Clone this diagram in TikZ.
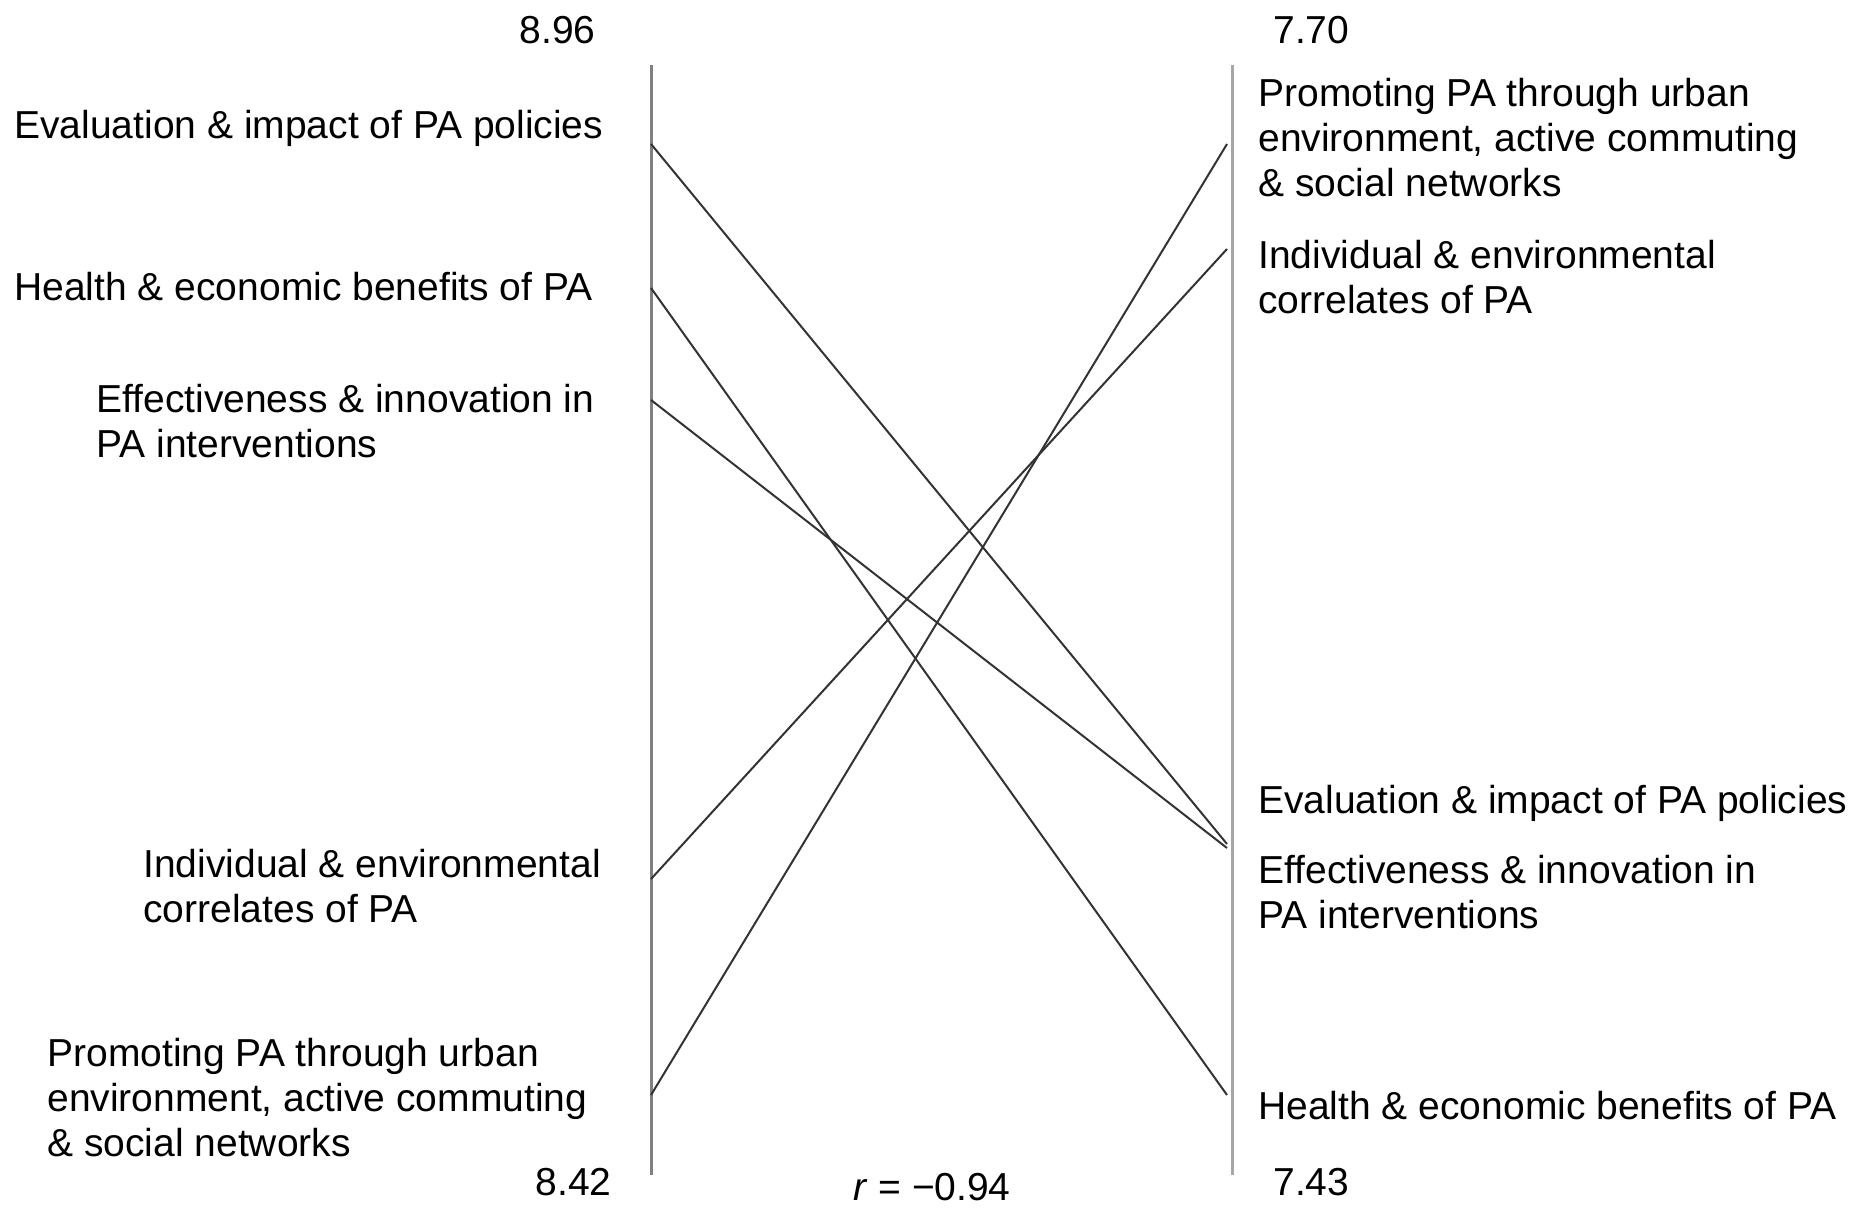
\documentclass[tikz,border=0pt]{standalone}
\usepackage{fontspec}
\setmainfont{Liberation Sans}
\begin{document}
\begin{tikzpicture}[x=0.5pt, y=-0.5pt,
	lbl/.style={inner sep=0pt, align=left, anchor=west,
				font=\fontsize{19.5}{22.5}\selectfont},
	num/.style={inner sep=0pt, font=\fontsize{19.5}{22.5}\selectfont},
	link/.style={black!80, line width=1pt}]
	\useasboundingbox (0,0) rectangle (1857,1211);

	% the two axes
	\coordinate (ltop) at (651,65);
	\coordinate (lbot) at (651,1175);
	\coordinate (rtop) at (1232,65);
	\coordinate (rbot) at (1232,1175);
	\draw[black!50, line width=1.5pt] (ltop) -- (lbot);
	\draw[black!35, line width=1.5pt] (rtop) -- (rbot);

	\draw (596,30) node[num, anchor=east](lmax) {8.96};
	\draw (612,1182) node[num, anchor=east](lmin) {8.42};
	\draw (1273,30) node[num, anchor=west](rmax) {7.70};
	\draw (1273,1182) node[num, anchor=west](rmin) {7.43};
	\draw (932,1187) node[num](corr) {\textit{r} = \char"2212 0.94};

	% left side labels
	\draw (14,128) node[lbl](LEval) {Evaluation \& impact of PA policies};
	\draw (14,287) node[lbl](LHealth) {Health \& economic benefits of PA};
	\draw (96,421) node[lbl](LEffect) {Effectiveness \& innovation in\\PA interventions};
	\draw (143,886) node[lbl](LIndiv) {Individual \& environmental\\correlates of PA};
	\draw (47,1098) node[lbl](LPromo) {Promoting PA through urban\\environment, active commuting\\\& social networks};

	% right side labels
	\draw (1258,138) node[lbl](RPromo) {Promoting PA through urban\\environment, active commuting\\\& social networks};
	\draw (1258,277) node[lbl](RIndiv) {Individual \& environmental\\correlates of PA};
	\draw (1258,803) node[lbl](REval) {Evaluation \& impact of PA policies};
	\draw (1258,892) node[lbl](REffect) {Effectiveness \& innovation in\\PA interventions};
	\draw (1258,1106) node[lbl](RHealth) {Health \& economic benefits of PA};

	% rank positions on the axes
	\coordinate (lEval) at (651,144);
	\coordinate (lHealth) at (651,288);
	\coordinate (lEffect) at (651,400);
	\coordinate (lIndiv) at (651,879);
	\coordinate (lPromo) at (651,1095);
	\coordinate (rPromo) at (1227,144);
	\coordinate (rIndiv) at (1227,249);
	\coordinate (rEval) at (1227,844);
	\coordinate (rEffect) at (1227,848);
	\coordinate (rHealth) at (1227,1095);

	\draw[link] (lEval) -- (rEval);
	\draw[link] (lHealth) -- (rHealth);
	\draw[link] (lEffect) -- (rEffect);
	\draw[link] (lIndiv) -- (rIndiv);
	\draw[link] (lPromo) -- (rPromo);
\end{tikzpicture}
\end{document}
